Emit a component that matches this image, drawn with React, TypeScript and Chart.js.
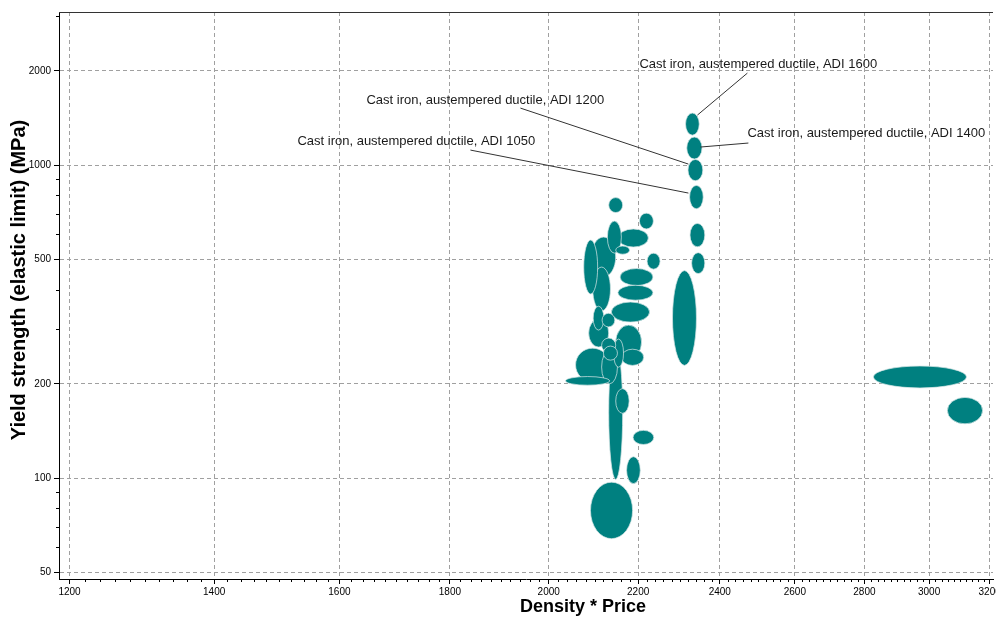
import React, { useEffect, useRef } from "react";
import { Chart, registerables } from "chart.js";

Chart.register(...registerables);

// Each material is an ellipse spanning [min, max] on both axes
const xLow = [2132, 2203, 2129, 2154, 2148, 2221, 2076, 2093, 2158, 2153, 2096, 2138, 2097, 2117, 2087, 2148, 2161, 2058, 2036, 2116, 2120, 2116, 2143, 2132, 2148, 2188, 2173, 2091, 2314, 2317, 2320, 2324, 2325, 2329, 2282, 2827, 3059];
const xHigh = [2164, 2236, 2161, 2224, 2180, 2252, 2107, 2148, 2235, 2235, 2136, 2227, 2121, 2146, 2132, 2208, 2213, 2134, 2134, 2148, 2152, 2152, 2166, 2164, 2179, 2237, 2205, 2187, 2348, 2355, 2357, 2358, 2362, 2362, 2341, 3122, 3176];
const yLow = [705, 625, 523, 547, 519, 465, 387, 439, 412, 370, 342, 315, 297, 304, 262, 240, 229, 203, 198, 252, 238, 200, 226, 99, 161, 128, 96, 64, 1246, 1045, 891, 725, 548, 450, 229, 194, 149];
const yHigh = [787, 702, 662, 625, 551, 523, 576, 589, 467, 413, 472, 365, 354, 336, 322, 308, 258, 260, 211, 280, 264, 256, 278, 265, 193, 142, 117, 97, 1466, 1229, 1042, 861, 651, 525, 460, 228, 181];

const labelIndex = [28, 29, 30, 31];
const labelText = [
  "Cast iron, austempered ductile, ADI 1600",
  "Cast iron, austempered ductile, ADI 1400",
  "Cast iron, austempered ductile, ADI 1200",
  "Cast iron, austempered ductile, ADI 1050",
];

const xTickValues = [1200, 1400, 1600, 1800, 2000, 2200, 2400, 2600, 2800, 3000, 3200];
const yTickValues = [50, 100, 200, 500, 1000, 2000];
const yMinorValues = [60, 70, 80, 90, 300, 400, 600, 700, 800, 900, 3000];
const xMinorValues: number[] = [];
for (let v = 1200; v <= 3200; v += 20) if (!xTickValues.includes(v)) xMinorValues.push(v);

const X_MIN = 1186.6;
const X_MAX = 3211.4;
const Y_MIN = 47.58;
const Y_MAX = 3083;

const FONT = '"Liberation Sans", Arial, Helvetica, sans-serif';

// layout of annotation callouts, in pixels relative to the ellipse centre
const labelLayout = [
  { tx: -53, ty: -60, sx: 55, sy: -51, ex: 5, ey: -9 },
  { tx: 53, ty: -15, sx: 54, sy: -5, ex: 6, ey: -1 },
  { tx: -329, ty: -70, sx: -175, sy: -62, ex: -7, ey: -6 },
  { tx: -399, ty: -56, sx: -226, sy: -47, ex: -8, ey: -4 },
];

const ellipsePlugin = {
  id: "ellipses",
  beforeDatasetsDraw(chart: any) {
    const { ctx, chartArea, scales } = chart;
    const xs = scales.x;
    const ys = scales.y;
    const items = xLow.map((_, i) => {
      const x1 = xs.getPixelForValue(xLow[i]);
      const x2 = xs.getPixelForValue(xHigh[i]);
      const y1 = ys.getPixelForValue(yLow[i]);
      const y2 = ys.getPixelForValue(yHigh[i]);
      return { cx: (x1 + x2) / 2, cy: (y1 + y2) / 2, rx: Math.abs(x2 - x1) / 2, ry: Math.abs(y1 - y2) / 2 };
    });
    const order = items.map((_, i) => i).sort((a, b) => items[b].rx * items[b].ry - items[a].rx * items[a].ry);
    ctx.save();
    ctx.beginPath();
    ctx.rect(chartArea.left, chartArea.top, chartArea.right - chartArea.left, chartArea.bottom - chartArea.top);
    ctx.clip();
    for (const i of order) {
      const e = items[i];
      ctx.beginPath();
      ctx.ellipse(e.cx, e.cy, e.rx, e.ry, 0, 0, Math.PI * 2);
      ctx.fillStyle = "#008080";
      ctx.fill();
      ctx.lineWidth = 0.8;
      ctx.strokeStyle = "rgba(215,230,230,0.9)";
      ctx.stroke();
    }
    ctx.restore();
    (chart as any)._ellipses = items;
  },
  afterDraw(chart: any) {
    const { ctx, chartArea, scales } = chart;
    const xs = scales.x;
    const ys = scales.y;
    const items = (chart as any)._ellipses || [];
    ctx.save();
    // top border
    ctx.strokeStyle = "#333333";
    ctx.lineWidth = 1;
    ctx.beginPath();
    ctx.moveTo(chartArea.left, Math.round(chartArea.top) + 0.5);
    ctx.lineTo(chartArea.right, Math.round(chartArea.top) + 0.5);
    ctx.stroke();
    // minor ticks
    ctx.strokeStyle = "#000000";
    ctx.beginPath();
    for (const v of xMinorValues) {
      const px = Math.round(xs.getPixelForValue(v)) + 0.5;
      ctx.moveTo(px, chartArea.bottom);
      ctx.lineTo(px, chartArea.bottom + 3);
    }
    for (const v of yMinorValues) {
      const py = Math.round(ys.getPixelForValue(v)) + 0.5;
      ctx.moveTo(chartArea.left, py);
      ctx.lineTo(chartArea.left - 3, py);
    }
    ctx.stroke();
    // callouts
    ctx.font = `13px ${FONT}`;
    ctx.fillStyle = "#1a1a1a";
    ctx.textBaseline = "middle";
    ctx.textAlign = "left";
    labelIndex.forEach((idx, k) => {
      const e = items[idx];
      if (!e) return;
      const L = labelLayout[k];
      ctx.fillText(labelText[k], e.cx + L.tx, e.cy + L.ty);
      ctx.strokeStyle = "#333333";
      ctx.lineWidth = 1;
      ctx.beginPath();
      ctx.moveTo(e.cx + L.sx, e.cy + L.sy);
      ctx.lineTo(e.cx + L.ex, e.cy + L.ey);
      ctx.stroke();
    });
    // axis titles
    ctx.fillStyle = "#000000";
    ctx.textAlign = "center";
    ctx.textBaseline = "middle";
    ctx.font = `bold 18px ${FONT}`;
    ctx.fillText("Density * Price", 583, 607);
    ctx.save();
    ctx.translate(19, 280);
    ctx.rotate(-Math.PI / 2);
    ctx.font = `bold 20px ${FONT}`;
    ctx.fillText("Yield strength (elastic limit) (MPa)", 0, 0);
    ctx.restore();
    ctx.restore();
  },
};

export default function App() {
  const ref = useRef<HTMLCanvasElement | null>(null);
  useEffect(() => {
    if (!ref.current) return;
    const points = xLow.map((_, i) => ({
      x: Math.sqrt(xLow[i] * xHigh[i]),
      y: Math.sqrt(yLow[i] * yHigh[i]),
    }));
    const chart = new Chart(ref.current, {
      type: "scatter",
      data: {
        datasets: [
          { data: points, pointRadius: 0, pointHoverRadius: 0, backgroundColor: "#008080" },
        ],
      },
      options: {
        responsive: false,
        animation: false,
        events: [],
        layout: { padding: { top: 12, right: 3, left: 0, bottom: 0 } },
        plugins: { legend: { display: false }, tooltip: { enabled: false } },
        scales: {
          x: {
            type: "logarithmic",
            min: X_MIN,
            max: X_MAX,
            afterBuildTicks: (s: any) => {
              s.ticks = xTickValues.map((v) => ({ value: v }));
            },
            afterFit: (s: any) => {
              s.height = 38;
              s.paddingLeft = 0;
              s.paddingRight = 0;
            },
            ticks: {
              autoSkip: false,
              maxRotation: 0,
              padding: 2,
              color: "#000000",
              font: { family: FONT, size: 10 },
              callback: (v: any) => String(v),
            },
            grid: {
              color: "#a0a0a0",
              lineWidth: 1,
              drawTicks: true,
              tickLength: 5,
              tickColor: "#000000",
            },
            border: { display: true, color: "#000000", width: 1, dash: [4, 3] },
          },
          y: {
            type: "logarithmic",
            min: Y_MIN,
            max: Y_MAX,
            afterBuildTicks: (s: any) => {
              s.ticks = yTickValues.map((v) => ({ value: v }));
            },
            afterFit: (s: any) => {
              s.width = 59;
              s.paddingTop = 0;
              s.paddingBottom = 0;
            },
            ticks: {
              autoSkip: false,
              padding: 3,
              color: "#000000",
              font: { family: FONT, size: 10 },
              callback: (v: any) => String(v),
            },
            grid: {
              color: "#a0a0a0",
              lineWidth: 1,
              drawTicks: true,
              tickLength: 5,
              tickColor: "#000000",
            },
            border: { display: true, color: "#000000", width: 1, dash: [4, 3] },
          },
        },
      },
      plugins: [ellipsePlugin],
    });
    return () => chart.destroy();
  }, []);
  return (
    <canvas
      ref={ref}
      width={996}
      height={617}
      style={{ position: "fixed", left: 0, top: 0, width: 996, height: 617, display: "block", background: "#ffffff" }}
    />
  );
}
